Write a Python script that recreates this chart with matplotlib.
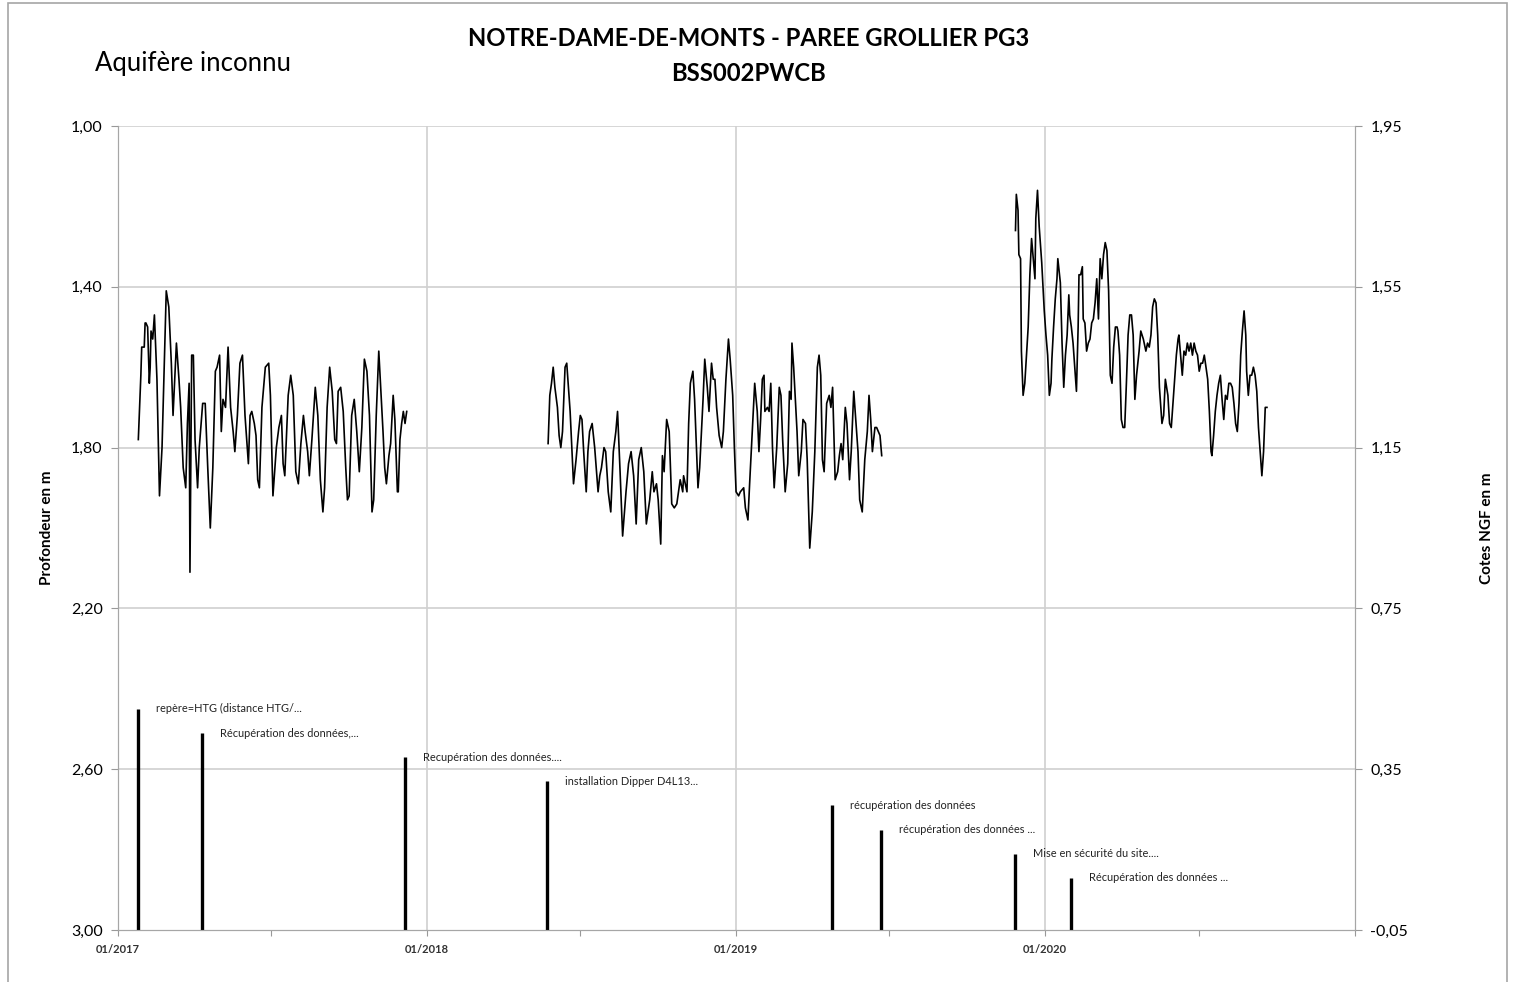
import numpy as np
import matplotlib
matplotlib.use("Agg")
from matplotlib import pyplot as plt
from matplotlib.patches import Rectangle
import matplotlib.dates as mdates

plt.rcParams['font.family'] = ['Lato', 'DejaVu Sans']

START = np.datetime64('2017-01-01')

# water depth (m), days counted from 2017-01-01
seg1_days = [24, 27, 28, 31, 32, 33, 35, 37, 38, 39, 41, 43, 46, 49, 52, 57, 60, 63, 65, 69,
             72, 74, 77, 80, 82, 84, 85, 87, 89, 91, 94, 96, 100, 103, 106, 109, 112, 115, 117, 120,
             122, 124, 127, 130, 133, 136, 138, 141, 144, 147, 150, 154, 156, 158, 161, 163, 165, 167, 170, 174,
             178, 180, 183, 187, 190, 193, 195, 197, 201, 204, 207, 210, 213, 216, 219, 221, 224, 226, 229, 233,
             236, 239, 242, 244, 247, 250, 253, 256, 258, 260, 263, 266, 269, 271, 273, 276, 279, 282, 285, 288,
             291, 294, 297, 300, 302, 305, 308, 310, 313, 315, 317, 320, 322, 325, 327, 330, 331, 333, 335, 337,
             339, 341]
seg1_depth = [1.78, 1.62, 1.55, 1.55, 1.49, 1.49, 1.50, 1.64, 1.60, 1.51, 1.53, 1.47, 1.63, 1.92, 1.80, 1.41, 1.45, 1.59, 1.72, 1.54,
              1.63, 1.70, 1.85, 1.90, 1.74, 1.64, 2.11, 1.57, 1.57, 1.78, 1.90, 1.80, 1.69, 1.69, 1.85, 2.00, 1.85, 1.61, 1.60, 1.57,
              1.76, 1.68, 1.70, 1.55, 1.70, 1.76, 1.81, 1.72, 1.59, 1.57, 1.72, 1.84, 1.72, 1.71, 1.74, 1.77, 1.88, 1.90, 1.70, 1.60,
              1.59, 1.67, 1.92, 1.80, 1.75, 1.72, 1.84, 1.87, 1.67, 1.62, 1.67, 1.86, 1.89, 1.79, 1.72, 1.76, 1.81, 1.87, 1.78, 1.65,
              1.72, 1.88, 1.96, 1.90, 1.70, 1.60, 1.66, 1.78, 1.79, 1.66, 1.65, 1.71, 1.85, 1.93, 1.92, 1.72, 1.68, 1.76, 1.86, 1.75,
              1.58, 1.61, 1.72, 1.96, 1.93, 1.72, 1.56, 1.64, 1.76, 1.85, 1.89, 1.82, 1.79, 1.67, 1.73, 1.91, 1.91, 1.78, 1.74, 1.71,
              1.74, 1.71]

seg2_days = [508, 509, 510, 512, 514, 516, 519, 521, 523, 525, 528, 530, 531, 534, 538, 541, 544, 546, 548, 550,
             553, 555, 557, 560, 563, 567, 569, 571, 574, 576, 579, 582, 585, 588, 590, 593, 596, 600, 603, 606,
             609, 612, 615, 618, 621, 624, 628, 631, 633, 636, 638, 641, 643, 645, 648, 651, 654, 657, 660, 664,
             667, 668, 672, 674, 676, 679, 681, 685, 687, 691, 693, 696, 698, 701, 703, 705, 707, 710, 713, 715,
             718, 721, 723, 726, 728, 730, 733, 735, 739, 741, 744, 746, 750, 752, 755, 757, 759, 761, 763, 764,
             767, 769, 771, 773, 775, 778, 781, 783, 785, 788, 791, 793, 795, 796, 798, 802, 804, 807, 809, 812,
             814, 817, 820, 823, 826, 828, 830, 832, 834, 837, 840, 842, 844, 847, 850, 852, 854, 856, 859, 861,
             864, 866, 869, 870, 874, 876, 879, 882, 885, 887, 889, 891, 894, 896, 898, 900, 902]
seg2_depth = [1.79, 1.73, 1.67, 1.64, 1.60, 1.65, 1.70, 1.77, 1.80, 1.76, 1.60, 1.59, 1.62, 1.71, 1.89, 1.83, 1.76, 1.72, 1.73, 1.81,
              1.91, 1.81, 1.76, 1.74, 1.80, 1.91, 1.87, 1.85, 1.80, 1.81, 1.91, 1.96, 1.81, 1.76, 1.71, 1.86, 2.02, 1.91, 1.84, 1.81,
              1.87, 1.99, 1.83, 1.80, 1.86, 1.99, 1.93, 1.86, 1.91, 1.89, 1.93, 2.04, 1.82, 1.86, 1.73, 1.76, 1.94, 1.95, 1.94, 1.88,
              1.91, 1.87, 1.91, 1.74, 1.64, 1.61, 1.68, 1.90, 1.85, 1.68, 1.58, 1.65, 1.71, 1.59, 1.63, 1.63, 1.70, 1.77, 1.80, 1.76,
              1.63, 1.53, 1.58, 1.67, 1.80, 1.91, 1.92, 1.91, 1.90, 1.95, 1.98, 1.89, 1.72, 1.64, 1.71, 1.81, 1.73, 1.63, 1.62, 1.71,
              1.70, 1.71, 1.64, 1.80, 1.90, 1.80, 1.65, 1.67, 1.78, 1.91, 1.84, 1.66, 1.68, 1.54, 1.60, 1.76, 1.87, 1.81, 1.73, 1.74,
              1.83, 2.05, 1.96, 1.81, 1.60, 1.57, 1.62, 1.83, 1.86, 1.69, 1.67, 1.70, 1.65, 1.88, 1.86, 1.82, 1.79, 1.83, 1.70, 1.74,
              1.88, 1.81, 1.66, 1.69, 1.81, 1.93, 1.96, 1.83, 1.76, 1.67, 1.73, 1.81, 1.75, 1.75, 1.76, 1.77, 1.82]

seg3_days = [1060, 1061, 1063, 1064, 1066, 1067, 1069, 1071, 1073, 1075, 1077, 1079, 1081, 1083, 1084, 1086, 1088, 1091, 1094, 1096,
             1098, 1100, 1102, 1103, 1105, 1107, 1109, 1110, 1113, 1115, 1117, 1119, 1121, 1123, 1124, 1126, 1128, 1130, 1132, 1134,
             1135, 1137, 1139, 1140, 1142, 1144, 1146, 1148, 1150, 1152, 1154, 1156, 1158, 1160, 1162, 1164, 1166, 1168, 1170, 1172,
             1174, 1176, 1178, 1180, 1181, 1183, 1185, 1187, 1189, 1191, 1193, 1195, 1197, 1199, 1201, 1203, 1206, 1208, 1211, 1214,
             1216, 1218, 1220, 1222, 1224, 1226, 1228, 1230, 1233, 1235, 1237, 1240, 1242, 1244, 1246, 1250, 1252, 1253, 1255, 1257,
             1259, 1261, 1263, 1265, 1267, 1269, 1271, 1273, 1275, 1277, 1279, 1281, 1283, 1285, 1287, 1289, 1291, 1292, 1294, 1296,
             1298, 1300, 1302, 1304, 1306, 1308, 1310, 1312, 1314, 1316, 1318, 1320, 1322, 1324, 1326, 1328, 1330, 1332, 1333, 1335,
             1337, 1339, 1341, 1343, 1345, 1347, 1349, 1351, 1353, 1355, 1357]
seg3_depth = [1.26, 1.17, 1.21, 1.32, 1.33, 1.56, 1.67, 1.64, 1.57, 1.50, 1.37, 1.28, 1.33, 1.38, 1.23, 1.16, 1.25, 1.34, 1.46, 1.52,
              1.57, 1.67, 1.64, 1.58, 1.50, 1.43, 1.38, 1.33, 1.39, 1.54, 1.65, 1.57, 1.52, 1.42, 1.47, 1.50, 1.54, 1.60, 1.66, 1.50,
              1.37, 1.37, 1.35, 1.48, 1.49, 1.56, 1.54, 1.53, 1.49, 1.48, 1.44, 1.38, 1.48, 1.33, 1.38, 1.32, 1.29, 1.31, 1.41, 1.62,
              1.64, 1.55, 1.50, 1.50, 1.51, 1.57, 1.73, 1.75, 1.75, 1.64, 1.52, 1.47, 1.47, 1.52, 1.68, 1.62, 1.56, 1.51, 1.53, 1.56,
              1.54, 1.55, 1.52, 1.45, 1.43, 1.44, 1.52, 1.65, 1.74, 1.72, 1.63, 1.67, 1.74, 1.75, 1.69, 1.57, 1.53, 1.52, 1.57, 1.62,
              1.56, 1.57, 1.54, 1.56, 1.54, 1.57, 1.54, 1.56, 1.57, 1.61, 1.59, 1.59, 1.57, 1.60, 1.63, 1.71, 1.81, 1.82, 1.77, 1.71,
              1.67, 1.64, 1.62, 1.68, 1.73, 1.67, 1.68, 1.64, 1.64, 1.65, 1.69, 1.74, 1.76, 1.69, 1.57, 1.51, 1.46, 1.52, 1.61, 1.67,
              1.62, 1.62, 1.60, 1.62, 1.66, 1.75, 1.81, 1.87, 1.81, 1.70, 1.70]

# field events
event_dates = ['2017-01-25', '2017-04-10', '2017-12-06', '2018-05-23',
               '2019-04-24', '2019-06-21', '2019-11-26', '2020-01-31']
event_levels = [2.45, 2.51, 2.57, 2.63, 2.69, 2.75, 2.81, 2.87]
event_labels = ['repère=HTG (distance HTG/...', 'Récupération des données,...',
                'Recupération des données....', 'installation Dipper D4L13...',
                'récupération des données', 'récupération des données ...',
                'Mise en sécurité du site....', 'Récupération des données ...']

left_ticks = [1.00, 1.40, 1.80, 2.20, 2.60, 3.00]
right_ticks = [1.95, 1.55, 1.15, 0.75, 0.35, -0.05]

fig = plt.figure(figsize=(15.15, 9.82), dpi=100)
ax = fig.add_axes([118 / 1515, 52 / 982, 1237 / 1515, 804 / 982])

grid_c = '#d0d0d0'
for days, depth in [(seg1_days, seg1_depth), (seg2_days, seg2_depth), (seg3_days, seg3_depth)]:
    dates = START + np.array(days).astype('timedelta64[D]')
    ax.plot(dates, depth, color='black', lw=1.2, zorder=3)

ev = np.array(event_dates, dtype='datetime64[D]')
ax.vlines(ev, event_levels, 3.0, color='black', lw=2.4, zorder=3)
for d, lev, lab in zip(ev, event_levels, event_labels):
    ax.annotate(lab, (mdates.date2num(d), lev), xytext=(13, 0), textcoords='offset points',
                fontsize=7.9, va='center', ha='left', color='#222222')

ax.set_ylim(3.0, 1.0)
ax.set_yticks(left_ticks)
ax.set_yticklabels([f'{v:.2f}'.replace('.', ',') for v in left_ticks], fontsize=11.5)
ax.set_xlim(np.datetime64('2017-01-01'), np.datetime64('2021-01-01'))
xt = np.array(['2017-01-01', '2017-07-01', '2018-01-01', '2018-07-01', '2019-01-01',
               '2019-07-01', '2020-01-01', '2020-07-01', '2021-01-01'], dtype='datetime64[D]')
ax.set_xticks(xt)
ax.set_xticklabels(['01/2017', '', '01/2018', '', '01/2019', '', '01/2020', '', ''],
                   fontsize=8, fontweight='bold', color='#333333')
ax.tick_params(axis='x', length=4, color='#999999', pad=6)
ax.tick_params(axis='y', length=5, color='#999999', pad=6)
ax.grid(False)
for y in [1.0, 1.4, 1.8, 2.2, 2.6]:
    ax.axhline(y, color=grid_c, lw=1.2, zorder=1)
for x in ['2018-01-01', '2019-01-01', '2020-01-01']:
    ax.axvline(np.datetime64(x), color=grid_c, lw=1.2, zorder=1)
for s in ['left', 'bottom', 'right']:
    ax.spines[s].set_color('#a6a6a6')
ax.spines['top'].set_visible(False)
ax.set_ylabel('Profondeur en m', fontsize=11, fontweight='bold', labelpad=12)

ax2 = ax.twinx()
ax2.set_ylim(-0.05, 1.95)
ax2.set_yticks(right_ticks)
ax2.set_yticklabels([f'{v:.2f}'.replace('.', ',') for v in right_ticks], fontsize=11.5)
ax2.tick_params(axis='y', length=5, color='#999999', pad=6)
for s in ['left', 'bottom', 'right']:
    ax2.spines[s].set_color('#a6a6a6')
ax2.spines['top'].set_visible(False)
ax2.set_ylabel('Cotes NGF en m', fontsize=11, fontweight='bold', labelpad=52)
ax2.yaxis.set_label_position('right')
ax2.yaxis.label.set_rotation(90)

fig.text(0.494, 0.961, 'NOTRE-DAME-DE-MONTS - PAREE GROLLIER PG3', ha='center', va='center',
         fontsize=17.2, fontweight='bold')
fig.text(0.494, 0.925, 'BSS002PWCB', ha='center', va='center', fontsize=17.2, fontweight='bold')
fig.text(95 / 1515, 0.935, 'Aquifère inconnu', ha='left', va='center', fontsize=18.5)

fig.patches.append(Rectangle((8 / 1515, -0.02), 1499 / 1515, 1.017, transform=fig.transFigure,
                             fill=False, edgecolor='#a6a6a6', lw=1.2))

fig.savefig('out.png', dpi=100)
